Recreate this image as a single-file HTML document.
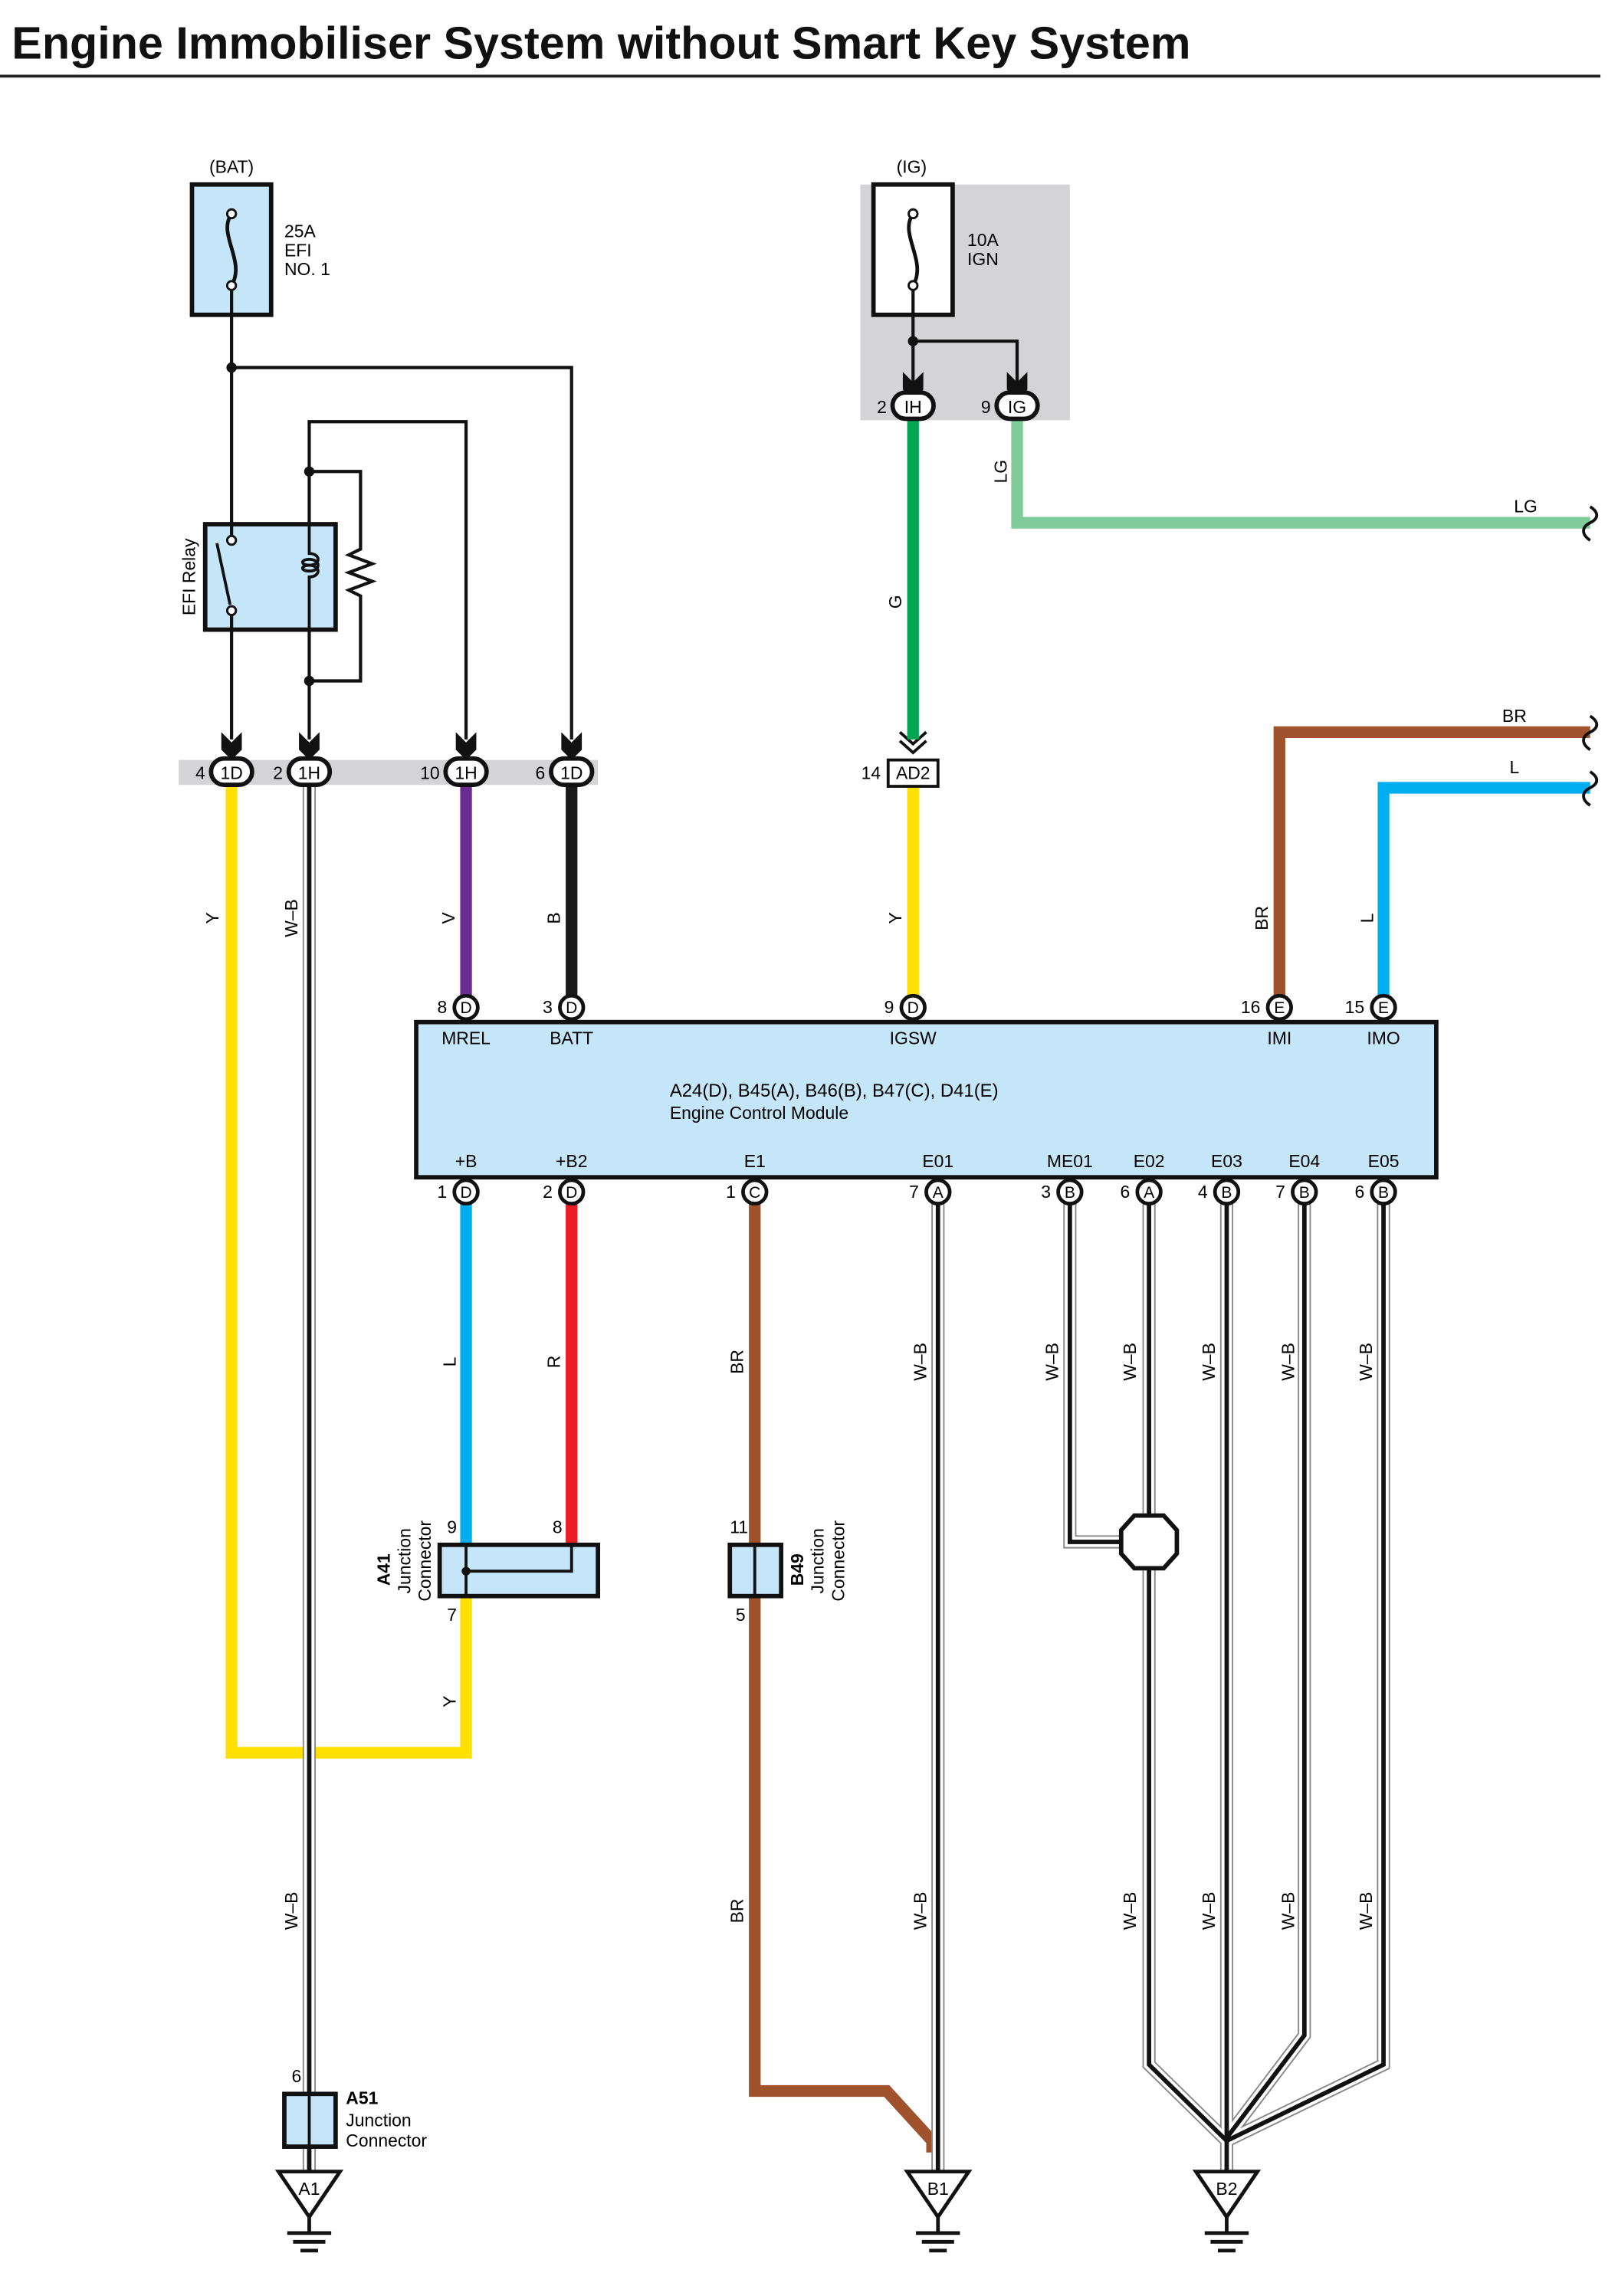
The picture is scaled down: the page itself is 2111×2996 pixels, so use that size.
<!DOCTYPE html>
<html><head><meta charset="utf-8"><style>html,body{margin:0;padding:0;background:#fff}svg{display:block}</style></head><body>
<svg xmlns="http://www.w3.org/2000/svg" width="2111" height="2996" viewBox="0 0 1104 1568" preserveAspectRatio="none" font-family="Liberation Sans, sans-serif">
<defs>
<g id="chev"><path d="M-7,-12 L0,-5 L7,-12 L7,-6 L0,1 L-7,-6Z M-7,-6 L0,1 L7,-6 L7,0 L0,7 L-7,0Z" fill="#111"/></g>
</defs>
<text x="8" y="40" font-size="31" font-weight="bold" fill="#111">Engine Immobiliser System without Smart Key System</text>
<line x1="0" y1="52" x2="1092" y2="52" stroke="#222" stroke-width="2"/>

<rect x="587" y="126" width="143" height="161" fill="#d4d4d6"/>
<rect x="122" y="519" width="286" height="17" fill="#d4d4d6"/>

<g stroke="#111" stroke-width="2.2" fill="none">
<path d="M158,215 V505"/>
<path d="M158,251 H390 V505"/>
<path d="M318,505 V288 H211 V505"/>
<path d="M211,322 H246 V375 l-8,4 l16,6 l-16,6 l16,6 l-16,6 l8,4 V465 H211"/>
<path d="M623,215 V262"/>
<path d="M623,233 H694 V262"/>
</g>
<g fill="#111"><circle cx="158" cy="251" r="3.5"/><circle cx="211" cy="322" r="3.5"/><circle cx="211" cy="465" r="3.5"/><circle cx="623" cy="233" r="3.5"/></g>

<rect x="131" y="126" width="54" height="89" fill="#c5e6f8" stroke="#111" stroke-width="3"/>
<path d="M158,146 C148,160 168,178 158,195" stroke="#111" stroke-width="2.5" fill="none"/>
<circle cx="158" cy="146" r="3" fill="#fff" stroke="#111" stroke-width="1.5"/><circle cx="158" cy="195" r="3" fill="#fff" stroke="#111" stroke-width="1.5"/>
<line x1="158" y1="198" x2="158" y2="215" stroke="#111" stroke-width="2.2"/>
<text x="158" y="118" font-size="12" text-anchor="middle">(BAT)</text>
<text font-size="12" x="194" y="162">25A</text><text font-size="12" x="194" y="175">EFI</text><text font-size="12" x="194" y="188">NO. 1</text>

<rect x="596" y="126" width="54" height="89" fill="#fff" stroke="#111" stroke-width="3"/>
<path d="M623,146 C613,160 633,178 623,195" stroke="#111" stroke-width="2.5" fill="none"/>
<circle cx="623" cy="146" r="3" fill="#fff" stroke="#111" stroke-width="1.5"/><circle cx="623" cy="195" r="3" fill="#fff" stroke="#111" stroke-width="1.5"/>
<line x1="623" y1="198" x2="623" y2="215" stroke="#111" stroke-width="2.2"/>
<text x="622" y="118" font-size="12" text-anchor="middle">(IG)</text>
<text font-size="12" x="660" y="168">10A</text><text font-size="12" x="660" y="181">IGN</text>

<rect x="140" y="358" width="89" height="72" fill="#c5e6f8" stroke="#111" stroke-width="3"/>
<line x1="158" y1="358" x2="158" y2="366" stroke="#111" stroke-width="2.2"/>
<line x1="158" y1="420" x2="158" y2="430" stroke="#111" stroke-width="2.2"/>
<line x1="148" y1="371" x2="157" y2="413" stroke="#111" stroke-width="2"/>
<circle cx="158" cy="369" r="3" fill="#fff" stroke="#111" stroke-width="1.5"/><circle cx="158" cy="417" r="3" fill="#fff" stroke="#111" stroke-width="1.5"/>
<path d="M211,358 V378 c8,0 8,8 0,8 c-6,0 -6,-4 0,-4 c8,0 8,8 0,8 c-6,0 -6,-4 0,-4 c8,0 8,8 0,8 V430" stroke="#111" stroke-width="2" fill="none"/>
<text transform="translate(133,394) rotate(-90)" font-size="12" text-anchor="middle">EFI Relay</text>

<use href="#chev" x="158" y="512"/><use href="#chev" x="211" y="512"/><use href="#chev" x="318" y="512"/><use href="#chev" x="390" y="512"/>
<use href="#chev" x="623" y="266"/><use href="#chev" x="694" y="266"/>
<g stroke="#111" stroke-width="2" fill="none"><path d="M614,500 l9,8 l9,-8 M614,506 l9,8 l9,-8"/></g>

<g fill="none" stroke-linejoin="miter">
<path d="M623,287 V505" stroke="#00a651" stroke-width="8"/>
<path d="M694,287 V357 H1085" stroke="#7fcc9a" stroke-width="8"/>
<path d="M873,680 V500 H1085" stroke="#a0522d" stroke-width="8"/>
<path d="M944,680 V538 H1085" stroke="#00aeef" stroke-width="8"/>
<path d="M158,536 V1197 H318 V1090" stroke="#ffe000" stroke-width="8"/>
<path d="M318,536 V680" stroke="#6a2c91" stroke-width="8"/>
<path d="M390,536 V680" stroke="#1a1a1a" stroke-width="8"/>
<path d="M623,537 V680" stroke="#ffe000" stroke-width="8"/>
<path d="M318,822 V1055" stroke="#00aeef" stroke-width="8"/>
<path d="M390,822 V1055" stroke="#ed1c24" stroke-width="8"/>
<path d="M515,822 V1055" stroke="#a0522d" stroke-width="8"/>
<path d="M515,1090 V1428 H605 L636,1462 V1470" stroke="#a0522d" stroke-width="8"/>
</g>
<g fill="none">
<g stroke="#888" stroke-width="9"><path d="M211,536 V1430 M211,1466 V1483 M640,822 V1483 M730,822 V1053 H770 M784,822 V1410 L837,1462 M837,822 V1483 M890,822 V1390 L837,1460 M944,822 V1410 L837,1462"/></g>
<g stroke="#fff" stroke-width="7"><path d="M211,536 V1430 M211,1466 V1483 M640,822 V1483 M730,822 V1053 H770 M784,822 V1410 L837,1462 M837,822 V1483 M890,822 V1390 L837,1460 M944,822 V1410 L837,1462"/></g>
<g stroke="#111" stroke-width="3"><path d="M211,536 V1430 M211,1466 V1483 M640,822 V1483 M730,822 V1053 H770 M784,822 V1410 L837,1462 M837,822 V1483 M890,822 V1390 L837,1460 M944,822 V1410 L837,1462"/></g>
</g>
<g stroke="#111" stroke-width="2" fill="none">
<path d="M1085,346 c6,4 6,8 0,11 c-6,3 -6,8 0,12"/>
<path d="M1085,489 c6,4 6,8 0,11 c-6,3 -6,8 0,12"/>
<path d="M1085,527 c6,4 6,8 0,11 c-6,3 -6,8 0,12"/>
</g>
<text x="1033" y="350" font-size="12">LG</text><text x="1025" y="493" font-size="12">BR</text><text x="1030" y="528" font-size="12">L</text>

<g stroke="#111" stroke-width="3" fill="#fff">
<rect x="144" y="518" width="28" height="18" rx="9"/><rect x="197" y="518" width="28" height="18" rx="9"/>
<rect x="304" y="518" width="28" height="18" rx="9"/><rect x="376" y="518" width="28" height="18" rx="9"/>
<rect x="609" y="268" width="28" height="18" rx="9"/><rect x="680" y="268" width="28" height="18" rx="9"/>
<rect x="606" y="519" width="34" height="18" stroke-width="2"/>
</g>
<g font-size="12" text-anchor="middle">
<text x="158" y="532">1D</text><text x="211" y="532">1H</text><text x="318" y="532">1H</text><text x="390" y="532">1D</text>
<text x="623" y="282">IH</text><text x="694" y="282">IG</text><text x="623" y="532">AD2</text>
</g>
<g font-size="12" text-anchor="end">
<text x="140" y="532">4</text><text x="193" y="532">2</text><text x="300" y="532">10</text><text x="372" y="532">6</text>
<text x="605" y="282">2</text><text x="676" y="282">9</text><text x="601" y="532">14</text>
</g>

<rect x="284" y="698" width="696" height="106" fill="#c5e6f8" stroke="#111" stroke-width="3"/>
<g stroke="#111" stroke-width="2.5" fill="#fff">
<circle cx="318" cy="688" r="8"/><circle cx="390" cy="688" r="8"/><circle cx="623" cy="688" r="8"/><circle cx="873" cy="688" r="8"/><circle cx="944" cy="688" r="8"/>
<circle cx="318" cy="814" r="8"/><circle cx="390" cy="814" r="8"/><circle cx="515" cy="814" r="8"/><circle cx="640" cy="814" r="8"/><circle cx="730" cy="814" r="8"/><circle cx="784" cy="814" r="8"/><circle cx="837" cy="814" r="8"/><circle cx="890" cy="814" r="8"/><circle cx="944" cy="814" r="8"/>
</g>
<g font-size="11" text-anchor="middle">
<text x="318" y="692">D</text><text x="390" y="692">D</text><text x="623" y="692">D</text><text x="873" y="692">E</text><text x="944" y="692">E</text>
<text x="318" y="818">D</text><text x="390" y="818">D</text><text x="515" y="818">C</text><text x="640" y="818">A</text><text x="730" y="818">B</text><text x="784" y="818">A</text><text x="837" y="818">B</text><text x="890" y="818">B</text><text x="944" y="818">B</text>
</g>
<g font-size="12" text-anchor="end">
<text x="305" y="692">8</text><text x="377" y="692">3</text><text x="610" y="692">9</text><text x="860" y="692">16</text><text x="931" y="692">15</text>
<text x="305" y="818">1</text><text x="377" y="818">2</text><text x="502" y="818">1</text><text x="627" y="818">7</text><text x="717" y="818">3</text><text x="771" y="818">6</text><text x="824" y="818">4</text><text x="877" y="818">7</text><text x="931" y="818">6</text>
</g>
<g font-size="12" text-anchor="middle">
<text x="318" y="713">MREL</text><text x="390" y="713">BATT</text><text x="623" y="713">IGSW</text><text x="873" y="713">IMI</text><text x="944" y="713">IMO</text>
<text x="318" y="797">+B</text><text x="390" y="797">+B2</text><text x="515" y="797">E1</text><text x="640" y="797">E01</text><text x="730" y="797">ME01</text><text x="784" y="797">E02</text><text x="837" y="797">E03</text><text x="890" y="797">E04</text><text x="944" y="797">E05</text>
</g>
<text x="457" y="749" font-size="12.5">A24(D), B45(A), B46(B), B47(C), D41(E)</text>
<text x="457" y="764" font-size="12">Engine Control Module</text>

<rect x="300" y="1055" width="108" height="35" fill="#c5e6f8" stroke="#111" stroke-width="3"/>
<path d="M318,1055 V1090 M318,1073 H390 V1055" stroke="#111" stroke-width="2" fill="none"/>
<circle cx="318" cy="1073" r="3" fill="#111"/>
<g font-size="12"><text x="305" y="1047">9</text><text x="377" y="1047">8</text><text x="305" y="1107">7</text><text x="498" y="1047">11</text><text x="502" y="1107">5</text></g>
<g font-size="12" text-anchor="middle">
<text transform="translate(266,1072) rotate(-90)" font-weight="bold">A41</text>
<text transform="translate(280,1066) rotate(-90)">Junction</text>
<text transform="translate(294,1066) rotate(-90)">Connector</text>
<text transform="translate(548,1072) rotate(-90)" font-weight="bold">B49</text>
<text transform="translate(562,1066) rotate(-90)">Junction</text>
<text transform="translate(576,1066) rotate(-90)">Connector</text>
</g>
<rect x="498" y="1055" width="35" height="35" fill="#c5e6f8" stroke="#111" stroke-width="3"/>
<line x1="515" y1="1055" x2="515" y2="1090" stroke="#111" stroke-width="2"/>
<path d="M774,1035 H794 L803,1045 V1061 L794,1071 H774 L765,1061 V1045Z" fill="#fff" stroke="#111" stroke-width="3"/>
<rect x="194" y="1430" width="35" height="36" fill="#c5e6f8" stroke="#111" stroke-width="3"/>
<line x1="211" y1="1430" x2="211" y2="1466" stroke="#111" stroke-width="2"/>
<text x="199" y="1422" font-size="12">6</text>
<text x="236" y="1437" font-size="12" font-weight="bold">A51</text>
<text x="236" y="1452" font-size="12">Junction</text>
<text x="236" y="1466" font-size="12">Connector</text>

<g stroke="#111" fill="#fff" stroke-width="2.5">
<path d="M190,1483 H232 L211,1514Z"/>
<path d="M211,1514 V1524 M196,1525 H226 M200,1531 H222 M205,1537 H217" fill="none"/>
<path d="M619,1483 H661 L640,1514Z"/><path d="M640,1514 V1524 M625,1525 H655 M629,1531 H651 M634,1537 H646" fill="none"/>
<path d="M816,1483 H858 L837,1514Z"/><path d="M837,1514 V1524 M822,1525 H852 M826,1531 H848 M831,1537 H843" fill="none"/>
</g>
<g font-size="12" text-anchor="middle"><text x="211" y="1499">A1</text><text x="640" y="1499">B1</text><text x="837" y="1499">B2</text></g>

<g font-size="12" text-anchor="middle">
<text transform="translate(687,322) rotate(-90)">LG</text>
<text transform="translate(615,411) rotate(-90)">G</text>
<text transform="translate(149,627) rotate(-90)">Y</text>
<text transform="translate(203,627) rotate(-90)">W–B</text>
<text transform="translate(310,627) rotate(-90)">V</text>
<text transform="translate(382,627) rotate(-90)">B</text>
<text transform="translate(615,627) rotate(-90)">Y</text>
<text transform="translate(865,627) rotate(-90)">BR</text>
<text transform="translate(937,627) rotate(-90)">L</text>
<text transform="translate(311,930) rotate(-90)">L</text>
<text transform="translate(382,930) rotate(-90)">R</text>
<text transform="translate(507,930) rotate(-90)">BR</text>
<text transform="translate(632,930) rotate(-90)">W–B</text>
<text transform="translate(722,930) rotate(-90)">W–B</text>
<text transform="translate(775,930) rotate(-90)">W–B</text>
<text transform="translate(829,930) rotate(-90)">W–B</text>
<text transform="translate(883,930) rotate(-90)">W–B</text>
<text transform="translate(936,930) rotate(-90)">W–B</text>
<text transform="translate(311,1162) rotate(-90)">Y</text>
<text transform="translate(203,1305) rotate(-90)">W–B</text>
<text transform="translate(507,1305) rotate(-90)">BR</text>
<text transform="translate(632,1305) rotate(-90)">W–B</text>
<text transform="translate(775,1305) rotate(-90)">W–B</text>
<text transform="translate(829,1305) rotate(-90)">W–B</text>
<text transform="translate(883,1305) rotate(-90)">W–B</text>
<text transform="translate(936,1305) rotate(-90)">W–B</text>
</g>
</svg>
</body></html>
